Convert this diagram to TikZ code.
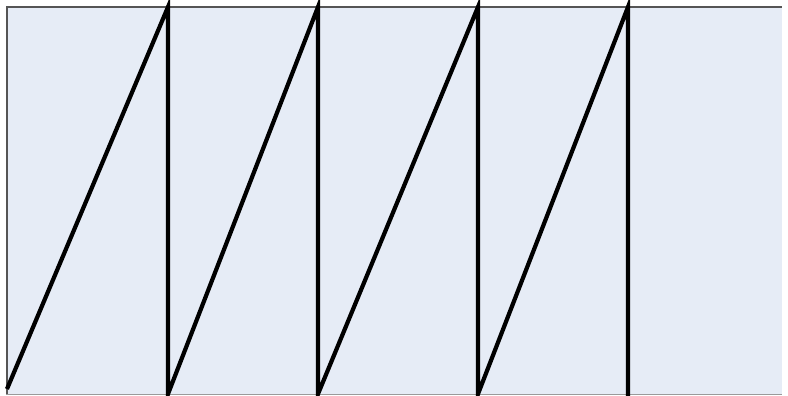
\documentclass[tikz,border=0pt]{standalone}
\definecolor{bgfill}{HTML}{E6ECF6}
\definecolor{edgedark}{HTML}{555555}
\definecolor{edgelight}{HTML}{9A9A9A}
\tikzset{saw/.style={line width=4.2pt,black,line join=miter,line cap=butt}}
\begin{document}
\begin{tikzpicture}[x=1pt,y=1pt]
\useasboundingbox (0,0) rectangle (788,396);
\fill[bgfill] (6,1) rectangle (782,389);
\draw[edgedark,line width=2pt] (7,1) -- (7,389) -- (782,389);
\draw[edgelight,line width=1.5pt] (6,1.5) -- (782,1.5);
\coordinate (s0) at (7,7);
\coordinate (p1) at (168,389);
\coordinate (b1) at (168,2);
\coordinate (p2) at (318,389);
\coordinate (b2) at (318,2);
\coordinate (p3) at (478,389);
\coordinate (b3) at (478,2);
\coordinate (p4) at (628,389);
\coordinate (b4) at (628,0);
\draw[saw] (s0) -- (p1) -- (b1) -- (p2) -- (b2) -- (p3) -- (b3) -- (p4) -- (b4);
\end{tikzpicture}
\end{document}
